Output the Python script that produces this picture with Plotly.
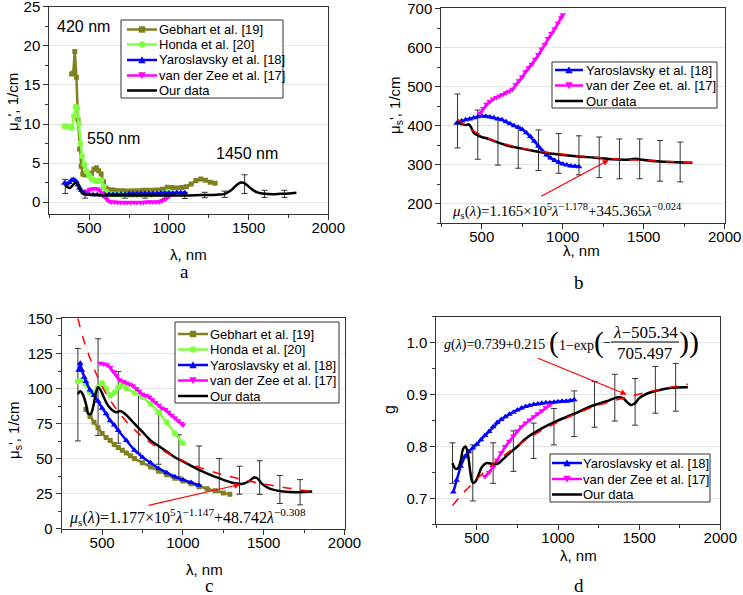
import plotly.graph_objects as go

W, H = 743, 595

# ---- panel a : absorption ----
GEB_A_X = [390, 400, 410, 420, 430, 440, 450, 460, 470, 485, 500, 515, 530, 545, 560, 575, 590, 605, 620, 640,
           660, 690, 720, 750, 780, 810, 840, 870, 900, 930, 960, 990, 1020, 1050, 1080, 1110, 1140, 1170, 1200,
           1230, 1260, 1290]
GEB_A_Y = [16.4, 16.5, 19.3, 16.0, 10.5, 6.8, 4.6, 3.6, 3.5, 3.5, 3.5, 3.7, 4.2, 4.4, 4.0, 3.6, 2.6, 1.8, 1.6, 1.55,
           1.5, 1.45, 1.45, 1.4, 1.45, 1.45, 1.5, 1.5, 1.5, 1.55, 1.65, 1.9, 1.85, 1.8, 1.85, 1.95, 2.3, 2.75, 2.95,
           2.8, 2.55, 2.4]
HON_A_X = [345, 360, 375, 390, 405, 415, 425, 435, 445, 455, 470, 485, 500, 515, 530, 545, 560, 575, 590, 605, 620,
           650, 680, 710, 740, 770, 800, 830, 860, 890, 920, 950, 980, 1000]
HON_A_Y = [9.7, 9.7, 9.6, 9.5, 11.0, 12.2, 12.0, 10.0, 7.5, 5.9, 4.8, 3.9, 3.4, 3.0, 2.8, 2.7, 2.7, 2.8, 2.0, 1.3, 1.1,
           1.0, 1.0, 0.95, 0.9, 0.9, 0.9, 0.9, 0.95, 0.95, 1.0, 1.1, 1.2, 1.3]
YAR_A_X = [345, 360, 375, 390, 400, 410, 420, 430, 440, 450, 465, 480, 500, 525, 550, 575, 600, 625, 650, 675, 700,
           725, 750, 775, 800, 825, 850, 875, 900, 925, 950, 975, 1000, 1025, 1050, 1075, 1100]
YAR_A_Y = [2.4, 2.3, 2.5, 2.8, 2.9, 2.8, 2.6, 2.2, 1.8, 1.5, 1.2, 1.05, 1.0, 0.95, 0.95, 0.95, 0.95, 1.0, 1.0, 1.0,
           1.0, 1.0, 1.05, 1.05, 1.05, 1.1, 1.1, 1.1, 1.1, 1.1, 1.15, 1.15, 1.15, 1.15, 1.2, 1.2, 1.2]
VDZ_A_X = [490, 505, 520, 535, 550, 565, 580, 595, 610, 625, 640, 660, 680, 700, 720, 740, 760, 780, 800, 820, 840,
           860, 880, 900, 920, 940, 960, 980, 1000]
VDZ_A_Y = [1.4, 1.6, 1.7, 1.75, 1.7, 1.5, 1.2, 0.8, 0.35, 0.1, 0.0, 0.0, -0.05, -0.05, -0.05, -0.05, -0.05, -0.05,
           -0.05, -0.05, -0.05, 0.0, 0.0, 0.0, 0.0, 0.05, 0.2, 0.4, 0.7]
OUR_A_X = [350, 365, 380, 395, 410, 425, 440, 455, 470, 500, 550, 600, 700, 800, 900, 1000, 1100, 1200, 1300, 1350,
           1390, 1420, 1450, 1470, 1500, 1530, 1560, 1600, 1650, 1700, 1750, 1800]
OUR_A_Y = [2.2, 1.9, 1.8, 2.1, 2.4, 2.4, 1.7, 1.2, 1.0, 0.95, 0.9, 0.85, 0.85, 0.85, 0.85, 0.85, 0.85, 0.9, 0.95,
           1.05, 1.5, 2.1, 2.5, 2.45, 2.0, 1.5, 1.2, 1.05, 1.0, 1.05, 1.1, 1.2]

# error bar positions (same wavelengths in every panel)
ERR_X = [350, 475, 600, 725, 850, 975, 1100, 1225, 1350, 1475, 1600, 1725]
ERR_A_Y = [2.0, 1.0, 0.85, 0.85, 0.85, 0.85, 0.85, 0.9, 1.0, 2.3, 1.05, 1.05]
ERR_A_E = [0.9, 0.5, 0.3, 0.35, 0.35, 0.4, 0.4, 0.35, 0.4, 1.2, 0.45, 0.45]

# ---- panel b : reduced scattering ----
YAR_B_X = [345, 375, 400, 425, 450, 475, 500, 525, 550, 575, 600, 625, 650, 675, 700, 725, 750, 775, 800, 825, 850,
           875, 900, 925, 950, 975, 1000, 1025, 1050, 1075, 1100]
YAR_B_Y = [406, 412, 415, 417, 420, 423, 425, 424, 422, 420, 417, 415, 410, 405, 400, 396, 390, 382, 372, 360, 347,
           335, 325, 317, 311, 306, 302, 299, 297, 296, 295]
VDZ_B_X = [490, 510, 530, 550, 570, 590, 610, 630, 650, 670, 690, 710, 730, 750, 770, 790, 810, 830, 850, 870, 890,
           910, 930, 950, 970, 990, 1000]
VDZ_B_Y = [432, 444, 455, 462, 468, 472, 476, 480, 484, 488, 493, 505, 515, 525, 538, 548, 557, 570, 582, 596, 608,
           623, 636, 648, 662, 676, 684]
OUR_B_X = [350, 375, 400, 420, 435, 450, 475, 500, 550, 600, 650, 700, 800, 900, 1000, 1100, 1200, 1300, 1400, 1450,
           1500, 1600, 1700, 1800]
OUR_B_Y = [410, 404, 402, 403, 395, 382, 375, 371, 365, 357, 350, 345, 337, 330, 325, 321, 318, 314, 313, 315, 312,
           308, 306, 305]
FIT_B_X = [350, 400, 500, 600, 700, 800, 1000, 1200, 1400, 1600, 1800]
FIT_B_Y = [417, 399, 375, 358, 347, 338, 327, 319, 313, 309, 305.5]
ERR_B_Y = [412, 377, 358, 344, 337, 329, 324, 319, 315, 315, 310, 307]
ERR_B_E = [69, 63, 59, 53, 52, 51, 50, 52, 51, 51, 52, 51]

# ---- panel c : scattering ----
GEB_C_X = [400, 425, 450, 475, 500, 525, 550, 575, 600, 625, 650, 675, 700, 750, 800, 850, 900, 950, 1000, 1050,
           1100, 1150, 1200, 1250, 1290]
GEB_C_Y = [85, 80, 76, 72, 68, 65, 63, 60, 58, 56, 54, 52, 50, 47, 44, 41, 38.5, 36, 34, 32, 30, 28.5, 27, 25.5, 24.5]
HON_C_X = [350, 375, 400, 425, 450, 475, 500, 525, 550, 575, 600, 625, 650, 700, 750, 800, 850, 900, 950, 1000]
HON_C_Y = [105, 106, 103, 97, 97, 101, 104, 100, 95, 97, 101, 103, 100, 97, 94, 89, 83, 76, 68, 61]
YAR_C_X = [355, 365, 375, 390, 400, 425, 450, 475, 500, 525, 550, 575, 600, 650, 700, 750, 800, 850, 900, 950, 1000,
           1050, 1100]
YAR_C_Y = [113, 118, 113, 108, 105, 99, 95, 91, 86, 82, 77, 74, 70, 63, 56, 51, 47, 43, 40, 37, 35, 33, 31]
VDZ_C_X = [490, 510, 530, 550, 570, 590, 610, 630, 650, 670, 690, 710, 730, 750, 770, 790, 810, 830, 850, 870, 890,
           910, 930, 950, 970, 990, 1000]
VDZ_C_Y = [118, 117.5, 117, 115, 112, 109, 106, 105, 104, 103, 102, 100, 98, 96, 95, 94, 92, 90, 88, 86, 85, 83, 81,
           79, 77, 75, 74]
OUR_C_X = [350, 365, 380, 400, 415, 430, 445, 460, 475, 490, 510, 530, 550, 570, 590, 610, 630, 650, 700, 750, 800,
           850, 900, 950, 1000, 1100, 1200, 1300, 1370, 1410, 1440, 1460, 1490, 1530, 1570, 1620, 1700, 1800]
OUR_C_Y = [96, 98, 96, 89, 82, 82, 87, 96, 101, 99, 94, 89, 86, 84, 83, 84, 83, 81, 75, 69, 63, 59, 55, 51, 48, 42,
           37, 33, 32, 34, 36.5, 36, 32, 29, 27.5, 26.5, 26, 26.5]
FIT_C_X = [350, 400, 500, 600, 700, 800, 1000, 1200, 1400, 1600, 1800]
FIT_C_Y = [150, 129.6, 101.6, 83.4, 70.7, 61.3, 48.4, 40.1, 34.2, 29.9, 26.5]
ERR_C_Y = [95.6, 101, 86.5, 75, 64, 52, 45, 38, 34.6, 36.5, 28, 26]
ERR_C_E = [33, 34.5, 25.5, 21, 18, 15, 14, 12, 10, 12, 10, 9]

# ---- panel d : anisotropy ----
YAR_D_X = [355, 375, 400, 425, 450, 475, 500, 525, 550, 575, 600, 625, 650, 675, 700, 725, 750, 775, 800, 825, 850,
           875, 900, 925, 950, 975, 1000, 1025, 1050, 1075, 1100]
YAR_D_Y = [0.712, 0.735, 0.762, 0.78, 0.79, 0.797, 0.804, 0.813, 0.821, 0.829, 0.838, 0.846, 0.852, 0.857, 0.862,
           0.866, 0.87, 0.874, 0.877, 0.879, 0.881, 0.882, 0.883, 0.884, 0.884, 0.885, 0.886, 0.887, 0.887, 0.888, 0.89]
VDZ_D_X = [550, 575, 600, 625, 650, 675, 700, 725, 750, 775, 800, 825, 850, 875, 900, 925, 950]
VDZ_D_Y = [0.742, 0.75, 0.76, 0.774, 0.788, 0.80, 0.81, 0.82, 0.83, 0.838, 0.845, 0.851, 0.857, 0.863, 0.869, 0.875,
           0.88]
OUR_D_X = [350, 365, 380, 400, 415, 430, 445, 460, 475, 490, 510, 530, 560, 600, 630, 660, 700, 750, 800, 900, 1000,
           1100, 1200, 1300, 1370, 1400, 1430, 1450, 1475, 1500, 1550, 1600, 1700, 1800]
OUR_D_Y = [0.768, 0.758, 0.757, 0.772, 0.795, 0.80, 0.785, 0.75, 0.73, 0.732, 0.745, 0.76, 0.768, 0.766, 0.767,
           0.775, 0.787, 0.80, 0.815, 0.835, 0.85, 0.863, 0.877, 0.887, 0.895, 0.893, 0.884, 0.88, 0.883, 0.893, 0.902,
           0.907, 0.913, 0.914]
FIT_D_X = [350, 400, 500, 600, 800, 1000, 1200, 1400, 1600, 1800]
FIT_D_Y = [0.686, 0.705, 0.737, 0.766, 0.812, 0.847, 0.874, 0.893, 0.908, 0.920]
ERR_D_Y = [0.768, 0.749, 0.768, 0.791, 0.811, 0.838, 0.863, 0.881, 0.894, 0.886, 0.909, 0.914]
ERR_D_E = [0.039, 0.054, 0.039, 0.039, 0.034, 0.035, 0.044, 0.044, 0.045, 0.045, 0.045, 0.046]

GEB = "Gebhart et al. [19]"
HON = "Honda et al. [20]"
YAR = "Yaroslavsky et al. [18]"
VDZ = "van der Zee et al. [17]"
OUR = "Our data"

OLIVE, LGREEN, BLUE, MAGENTA = "#808020", "#80ff40", "#0000ff", "#ff00ff"
SANS = "Liberation Sans"
SERIF = "Liberation Serif"


def px(x):
    return x / W


def py(y):
    return 1 - y / H


fig = go.Figure()


def errors(xa, ya, y, e):
    fig.add_trace(go.Scatter(x=ERR_X, y=y, mode="markers", marker=dict(size=1, color="rgba(0,0,0,0)"),
                             error_y=dict(type="data", array=e, color="#333333", thickness=1, width=3),
                             xaxis=xa, yaxis=ya, showlegend=False, hoverinfo="skip"))


def series(x, y, name, color, symbol, xa, ya, size=6):
    fig.add_trace(go.Scatter(x=x, y=y, name=name, mode="lines+markers", showlegend=False,
                             line=dict(color=color, width=2.5),
                             marker=dict(symbol=symbol, size=size, color=color),
                             xaxis=xa, yaxis=ya))


def ours(x, y, xa, ya):
    fig.add_trace(go.Scatter(x=x, y=y, name=OUR, mode="lines", showlegend=False,
                             line=dict(color="black", width=2.5, shape="spline"),
                             xaxis=xa, yaxis=ya))


def fit(x, y, xa, ya):
    fig.add_trace(go.Scatter(x=x, y=y, mode="lines", showlegend=False,
                             line=dict(color="#ff0000", width=1.5, dash="dash", shape="spline"),
                             xaxis=xa, yaxis=ya))


# panel a
errors("x", "y", ERR_A_Y, ERR_A_E)
series(GEB_A_X, GEB_A_Y, GEB, OLIVE, "square", "x", "y", 5)
series(HON_A_X, HON_A_Y, HON, LGREEN, "circle", "x", "y")
series(YAR_A_X, YAR_A_Y, YAR, BLUE, "triangle-up", "x", "y")
series(VDZ_A_X, VDZ_A_Y, VDZ, MAGENTA, "triangle-down", "x", "y")
ours(OUR_A_X, OUR_A_Y, "x", "y")

# panel b
errors("x2", "y2", ERR_B_Y, ERR_B_E)
series(YAR_B_X, YAR_B_Y, YAR, BLUE, "triangle-up", "x2", "y2")
series(VDZ_B_X, VDZ_B_Y, VDZ, MAGENTA, "triangle-down", "x2", "y2")
ours(OUR_B_X, OUR_B_Y, "x2", "y2")
fit(FIT_B_X, FIT_B_Y, "x2", "y2")

# panel c
errors("x3", "y3", ERR_C_Y, ERR_C_E)
series(GEB_C_X, GEB_C_Y, GEB, OLIVE, "square", "x3", "y3", 5)
series(HON_C_X, HON_C_Y, HON, LGREEN, "circle", "x3", "y3")
series(YAR_C_X, YAR_C_Y, YAR, BLUE, "triangle-up", "x3", "y3")
series(VDZ_C_X, VDZ_C_Y, VDZ, MAGENTA, "triangle-down", "x3", "y3")
ours(OUR_C_X, OUR_C_Y, "x3", "y3")
fit(FIT_C_X, FIT_C_Y, "x3", "y3")

# panel d
errors("x4", "y4", ERR_D_Y, ERR_D_E)
series(YAR_D_X, YAR_D_Y, YAR, BLUE, "triangle-up", "x4", "y4")
series(VDZ_D_X, VDZ_D_Y, VDZ, MAGENTA, "triangle-down", "x4", "y4")
ours(OUR_D_X, OUR_D_Y, "x4", "y4")
fit(FIT_D_X, FIT_D_Y, "x4", "y4")


def xax(left, right, anchor):
    return dict(domain=[px(left), px(right)], anchor=anchor, range=[250, 2000],
                tickvals=[500, 1000, 1500, 2000], showline=True, linecolor="#333", linewidth=1, mirror=True,
                ticks="outside", ticklen=5, tickcolor="#333", showgrid=False, zeroline=False, automargin=False,
                ticklabelstandoff=-5, ticklabeloverflow="allow",
                tickfont=dict(family=SANS, size=15, color="black"),
                minor=dict(ticks="outside", ticklen=3, tickcolor="#333", tick0=0, dtick=250))


def yax(top, bottom, anchor, rng, vals, minor, fmt=None):
    d = dict(domain=[py(bottom), py(top)], anchor=anchor, range=rng, tickvals=vals,
             showline=True, linecolor="#333", linewidth=1, mirror=True,
             ticks="outside", ticklen=5, tickcolor="#333", showgrid=True, gridcolor="#e4e4e4",
             zeroline=False, automargin=False, ticklabeloverflow="allow",
             tickfont=dict(family=SANS, size=15, color="black"),
             minor=dict(ticks="outside", ticklen=3, tickcolor="#333", dtick=minor, showgrid=False))
    if fmt:
        d["tickformat"] = fmt
    return d


anns = []
shapes = []


def text(x, y, s, size=15, family=SANS, angle=0, xanchor="center", color="black"):
    anns.append(dict(x=px(x), y=py(y), xref="paper", yref="paper", text=s, showarrow=False, textangle=angle,
                     xanchor=xanchor, yanchor="middle", font=dict(family=family, size=size, color=color)))


def arrow(xa, ya, hx, hy, tx, ty):
    anns.append(dict(x=hx, y=hy, ax=tx, ay=ty, xref=xa, yref=ya, axref=xa, ayref=ya, text="", showarrow=True,
                     arrowhead=2, arrowsize=1, arrowwidth=1.2, arrowcolor="#ff0000"))


def path(points):
    return "M " + " L ".join(f"{px(x):.5f},{py(y):.5f}" for x, y in points) + " Z"


def glyph(kind, x, y, color):
    r = 3.2
    if kind == "square":
        pts = [(x - r, y - r), (x + r, y - r), (x + r, y + r), (x - r, y + r)]
    elif kind == "triangle-up":
        pts = [(x - r - 0.5, y + r), (x + r + 0.5, y + r), (x, y - r - 0.5)]
    elif kind == "triangle-down":
        pts = [(x - r - 0.5, y - r), (x + r + 0.5, y - r), (x, y + r + 0.5)]
    else:
        shapes.append(dict(type="circle", xref="paper", yref="paper", x0=px(x - r), x1=px(x + r),
                           y0=py(y + r), y1=py(y - r), fillcolor=color, line=dict(width=0)))
        return
    shapes.append(dict(type="path", xref="paper", yref="paper", path=path(pts), fillcolor=color,
                       line=dict(width=0)))


def legend(box, rows, line_x, text_x, entries):
    x0, y0, x1, y1 = box
    shapes.append(dict(type="rect", xref="paper", yref="paper", x0=px(x0), x1=px(x1), y0=py(y1), y1=py(y0),
                       fillcolor="white", line=dict(color="#333", width=1), layer="above"))
    for yc, (name, color, kind) in zip(rows, entries):
        shapes.append(dict(type="line", xref="paper", yref="paper", x0=px(line_x[0]), x1=px(line_x[1]),
                           y0=py(yc), y1=py(yc), line=dict(color=color, width=2.5), layer="above"))
        if kind:
            glyph(kind, (line_x[0] + line_x[1]) / 2, yc, color)
        text(text_x, yc, name, 13, xanchor="left")


legend((121, 20, 283, 98), [29.5, 44.5, 60, 75.5, 90.5], (127, 157), 157,
       [(GEB, OLIVE, "square"), (HON, LGREEN, "circle"), (YAR, BLUE, "triangle-up"),
        (VDZ, MAGENTA, "triangle-down"), (OUR, "black", None)])
legend((552, 62, 717, 108), [70, 85.5, 101], (555, 583), 584,
       [(YAR, BLUE, "triangle-up"), ("van der Zee et. al. [17]", MAGENTA, "triangle-down"), (OUR, "black", None)])
legend((175, 322, 339, 403), [334, 349.5, 365, 380.5, 396], (178, 208), 208,
       [(GEB, OLIVE, "square"), (HON, LGREEN, "circle"), (YAR, BLUE, "triangle-up"),
        (VDZ, MAGENTA, "triangle-down"), (OUR, "black", None)])
legend((550, 454, 710, 502), [463, 479, 494.5], (552, 582), 581,
       [(YAR, BLUE, "triangle-up"), (VDZ, MAGENTA, "triangle-down"), (OUR, "black", None)])

# axis titles and panel letters
for (x, y) in [(188, 254), (581, 250), (204, 569), (578, 555)]:
    text(x, y, "λ, nm", 15)
text(13, 102, "μ<sub>a</sub>', 1/cm", 15, angle=-90)
text(395, 105, "μ<sub>s</sub>', 1/cm", 15, angle=-90)
text(14, 430, "μ<sub>s</sub>', 1/cm", 15, angle=-90)
text(389, 410, "g", 16, angle=-90)
text(184, 272, "a", 19, SERIF)
text(579, 282, "b", 19, SERIF)
text(209, 585, "c", 19, SERIF)
text(579, 585, "d", 19, SERIF)

# panel a labels
text(83, 27, "420 nm", 16)
text(113, 138, "550 nm", 16)
text(247, 154, "1450 nm", 16)

# fitted formulas
text(450, 211, "<i>μ</i><sub>s</sub>(<i>λ</i>)=1.165×10<sup>5</sup><i>λ</i><sup>−1.178</sup>"
               "+345.365<i>λ</i><sup>−0.024</sup>", 15, SERIF, xanchor="left")
text(67, 517, "<i>μ</i><sub>s</sub>(<i>λ</i>)=1.177×10<sup>5</sup><i>λ</i><sup>−1.147</sup>"
              "+48.742<i>λ</i><sup>−0.308</sup>", 16, SERIF, xanchor="left")
text(442, 345, "<i>g</i>(<i>λ</i>)=0.739+0.215", 14, SERIF, xanchor="left")
text(547, 342, "(", 30, SERIF, xanchor="left")
text(557, 345, "1−exp", 14, SERIF, xanchor="left")
text(592, 342, "(", 30, SERIF, xanchor="left")
text(601, 343, "−", 14, SERIF, xanchor="left")
text(645, 332, "<i>λ</i>−505.34", 17, SERIF)
text(645, 353, "705.497", 17, SERIF)
text(677, 342, "))", 30, SERIF, xanchor="left")
shapes.append(dict(type="line", xref="paper", yref="paper", x0=px(611), x1=px(679), y0=py(342), y1=py(342),
                   line=dict(color="black", width=1)))

arrow("x2", "y2", 1284, 312, 858, 217)
arrow("x3", "y3", 1354, 31.6, 778, 16.4)
arrow("x4", "y4", 1423, 0.900, 868, 0.971)

fig.update_layout(
    width=W, height=H, template="none", margin=dict(l=0, r=0, t=0, b=0),
    paper_bgcolor="white", plot_bgcolor="white", showlegend=False,
    xaxis=xax(49.3, 328.3, "y"),
    yaxis=yax(6.7, 214.3, "x", [-1.57, 25.03], [0, 5, 10, 15, 20, 25], 2.5),
    xaxis2=xax(441.3, 724.7, "y2"),
    yaxis2=yax(8.3, 223.3, "x2", [150, 700.5], [200, 300, 400, 500, 600, 700], 50),
    xaxis3=xax(61.7, 344.5, "y3"),
    yaxis3=yax(318.3, 528.7, "x3", [0, 150.1], [0, 25, 50, 75, 100, 125, 150], 12.5),
    xaxis4=xax(436.3, 720.3, "y4"),
    yaxis4=yax(316.7, 524.3, "x4", [0.65, 1.05], [0.7, 0.8, 0.9, 1.0], 0.05, ".1f"),
    annotations=anns,
    shapes=shapes,
)

# the page body has a default 8px margin; drop it so the figure fills the window
fig.write_html("out.html", config={"displayModeBar": False},
               post_script="document.body.style.margin='0';document.body.style.overflow='hidden';")
